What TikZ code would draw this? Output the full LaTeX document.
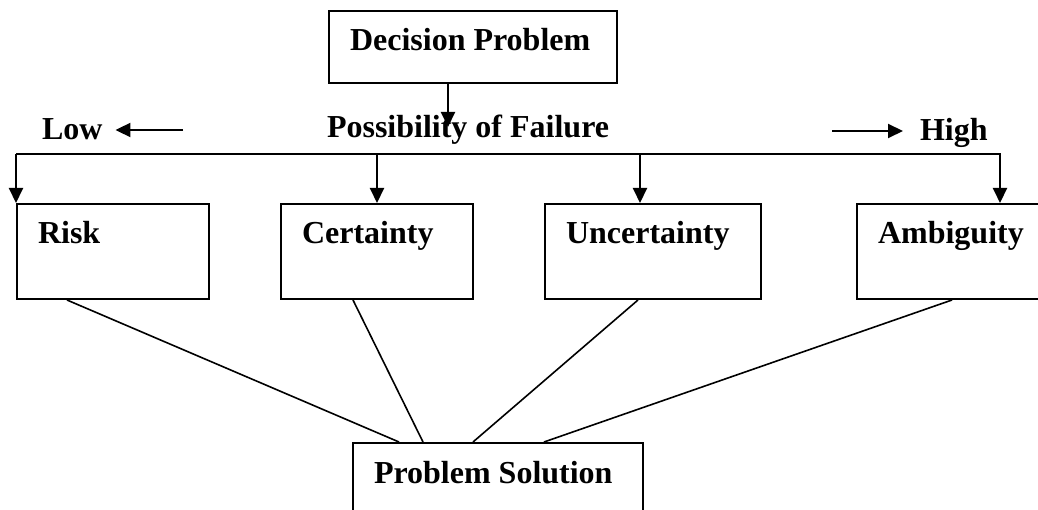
\documentclass[tikz,border=0pt]{standalone}
\usepackage{fontspec}
\setmainfont{Liberation Serif}
\usetikzlibrary{arrows.meta}
\begin{document}
\begin{tikzpicture}[x=1pt, y=-1pt, line width=2pt,
  every node/.style={font=\fontsize{32}{38}\selectfont\bfseries},
  box/.style={draw, rectangle, anchor=north west, align=left, inner xsep=21pt, inner ysep=18pt, text height=22pt,
    execute at begin node={\spaceskip=8pt\relax}},
  word/.style={anchor=base west, inner sep=0pt},
  arr/.style={-{Triangle[length=15pt,width=14pt]}}]
\useasboundingbox (0,0) rectangle (1038,510);
\node[box, text width=246pt, text depth=14pt] (dp) at (328,10) {Decision Problem};
\node[box, text width=150pt, text depth=37pt] (risk) at (16,203) {Risk};
\node[box, text width=150pt, text depth=37pt] (cert) at (280,203) {Certainty};
\node[box, text width=174pt, text depth=37pt] (unc) at (544,203) {Uncertainty};
\node[box, text width=158pt, text depth=37pt] (amb) at (856,203) {Ambiguity};
\node[box, text width=248pt, text depth=60pt] (sol) at (352,442) {Problem Solution};

\node[word] (low) at (41,140) {Low};
\node[word] (fail) at (326,138) {Possibility of Failure};
\node[word] (high) at (919,141) {High};

\coordinate (drop) at (448,127);
\coordinate (lowtail) at (183,130);
\coordinate (hightail) at (832,131);
\coordinate (busL) at (16,154);
\coordinate (busU) at (640,154);
\coordinate (busR) at (1000,154);

\draw[arr] (drop |- dp.south) -- (drop);
\draw[arr, shorten >=12pt] (lowtail) -- (lowtail -| low.east);
\draw[arr, shorten >=16pt] (hightail) -- (hightail -| high.west);

\draw[arr] (busL) -- (busR) -- (busR |- amb.north);
\draw[arr] (busL) -- (risk.north west);
\draw[arr] (cert.north |- busL) -- (cert.north);
\draw[arr] (busU) -- (busU |- unc.north);

\draw[line width=1.6pt] ([xshift=51pt]risk.south west) -- ([xshift=47pt]sol.north west);
\draw[line width=1.6pt] ([xshift=73pt]cert.south west) -- ([xshift=71pt]sol.north west);
\draw[line width=1.6pt] ([xshift=94pt]unc.south west) -- ([xshift=121pt]sol.north west);
\draw[line width=1.6pt] ([xshift=96pt]amb.south west) -- ([xshift=192pt]sol.north west);
\end{tikzpicture}
\end{document}
